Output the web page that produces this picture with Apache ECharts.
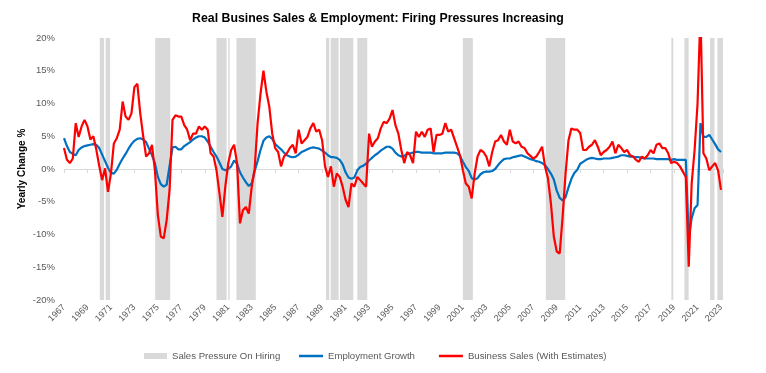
<!DOCTYPE html>
<html><head><meta charset="utf-8">
<script src="https://cdn.jsdelivr.net/npm/echarts@6/dist/echarts.min.js"></script>
<style>html,body{margin:0;padding:0;background:#fff}#c{width:766px;height:373px}</style>
</head><body><div id="c"></div>
<script>
// Quarterly observations, first = 1967 Q1, last = 2023 Q1
const startYear = 1967;
const employmentGrowth = [
 4.7,3.5,2.6,2.3, 2.1,2.9,3.3,3.5, 3.6,3.7,3.8,3.7, 3.2,2.2,1.2,0.2,
 -0.6,-0.7,-0.1,0.8, 1.6,2.3,3.1,3.8, 4.3,4.6,4.7,4.5, 4.1,3.1,2.1,0.9,
 -1.2,-2.3,-2.7,-2.4, 0.5,3.3,3.4,3.0, 3.0,3.5,3.8,4.1, 4.5,4.8,5.0,5.0,
 4.8,4.2,3.4,2.6, 1.9,1.0,0.0,-0.2, 0.0,0.4,1.3,0.8, -0.5,-1.3,-2.0,-2.6,
 -2.2,-0.3,1.2,2.9, 4.3,4.8,5.0,4.6, 3.8,3.4,3.0,2.5, 2.1,1.9,1.8,1.9,
 2.2,2.6,2.8,3.0, 3.2,3.3,3.2,3.1, 2.8,2.5,2.1,1.8, 1.8,1.7,1.4,0.7,
 -0.5,-1.3,-1.5,-1.3, -0.2,0.3,0.5,0.8, 1.3,1.7,2.1,2.4, 2.8,3.1,3.4,3.4,
 3.1,2.5,2.1,1.9, 2.0,2.3,2.4,2.5, 2.6,2.6,2.5,2.5, 2.5,2.5,2.4,2.4,
 2.4,2.4,2.5,2.5, 2.5,2.5,2.4,2.0, 1.1,0.3,-0.3,-1.4, -1.6,-1.4,-0.8,-0.5,
 -0.4,-0.4,-0.3,0.0, 0.6,1.1,1.5,1.6, 1.6,1.8,1.9,2.0, 2.1,1.9,1.7,1.5,
 1.4,1.2,1.1,0.9, 0.6,0.0,-0.7,-1.6, -3.3,-4.4,-4.8,-4.3, -2.8,-1.5,-0.6,-0.1,
 0.8,1.1,1.4,1.6, 1.7,1.6,1.5,1.5, 1.6,1.6,1.6,1.7, 1.8,1.9,2.1,2.1,
 2.0,1.9,1.9,1.8, 1.8,1.7,1.6,1.6, 1.6,1.6,1.5,1.5, 1.5,1.5,1.5,1.4,
 1.5,1.4,1.4,1.4, 1.4,-10.5,-7.5,-6.0, -5.5,7.0,4.9,4.9, 5.2,4.5,3.8,3.0,
 2.6
];
const businessSales = [
 3.2,1.4,0.9,1.6, 7.0,4.9,6.5,7.5, 6.5,4.5,5.0,3.0, 0.5,-1.7,0.1,-3.5,
 -0.7,3.9,4.7,6.0, 10.3,8.0,7.5,8.5, 12.5,13.0,8.5,5.0, 1.9,2.4,3.7,-0.2,
 -7.0,-10.3,-10.6,-7.8, -3.2,7.5,8.2,8.0, 8.0,6.7,6.0,4.4, 5.4,5.4,6.5,6.0,
 6.5,6.0,2.4,1.9, -0.2,-3.7,-7.3,-2.7, 0.9,2.9,3.7,0.9, -8.3,-6.3,-5.8,-6.8,
 -2.7,0.0,7.0,11.5, 15.0,11.8,9.5,5.4, 3.2,2.6,0.4,1.9, 2.4,3.2,3.7,2.4,
 6.0,3.9,4.4,4.9, 6.2,7.0,5.7,6.0, 4.4,0.4,-1.2,0.4, -2.7,-0.7,-1.2,-2.7,
 -4.7,-5.8,-2.2,-2.7, -1.2,-1.7,-2.2,-2.7, 5.4,3.4,4.2,4.7, 6.2,7.2,7.0,7.7,
 9.0,6.7,5.4,2.9, 0.9,2.6,2.1,0.9, 5.7,4.9,5.7,4.9, 6.0,6.2,2.6,5.2,
 5.2,5.4,7.0,5.7, 6.0,4.7,3.4,2.1, -0.2,-2.2,-2.7,-4.5, -0.7,1.9,2.9,2.6,
 1.9,0.4,2.6,4.2, 4.4,5.2,4.2,3.7, 6.0,4.2,3.9,4.2, 3.4,3.2,2.4,2.0,
 1.6,1.9,2.6,3.4, 0.4,-1.4,-5.2,-10.3, -12.6,-12.9,-7.3,-0.7, 4.4,6.2,6.0,6.0,
 5.5,2.9,2.9,3.4, 3.7,4.4,3.4,2.1, 2.6,2.9,3.4,4.2, 2.4,3.7,3.2,2.6,
 2.9,2.1,1.9,1.4, 1.1,1.9,1.6,2.1, 2.9,2.4,3.7,3.9, 3.2,3.2,2.4,0.9,
 1.1,0.9,0.4,-0.4, -1.2,-14.9,-2.2,2.9, 10.0,24.0,2.4,1.6, -0.2,0.4,0.9,-0.2,
 -3.2
];
// "Sales pressure on hiring" periods (decimal years)
const pressureStart = [1970.05,1970.55,1974.77,1980.0,1981.0,1981.7,1989.33,1989.73,1990.52,1992.0,2001.0,2008.07,2018.77,2019.88,2022.07,2022.69];
const pressureEnd   = [1970.42,1970.93,1976.05,1980.86,1981.12,1983.35,1989.61,1990.41,1991.66,1992.85,2001.85,2009.72,2018.93,2020.24,2022.44,2023.17];
const yearSpan = 56.17; // Jan 1967 .. Mar 2023

const FONT = "'Liberation Sans', Arial, sans-serif";
const chart = echarts.init(document.getElementById('c'), null, {renderer: 'canvas'});
const toXY = arr => arr.map((v, i) => [i / 4, v]);

chart.setOption({
  animation: false,
  backgroundColor: '#fff',
  title: {
    text: 'Real Busines Sales & Employment: Firing Pressures Increasing',
    left: 373, top: 8, textAlign: 'center',
    textStyle: {fontFamily: FONT, fontWeight: 'bold', fontSize: 12.3, color: '#000'}
  },
  grid: {left: 64, right: 43, top: 38, bottom: 73},
  legend: [
    {data: [{name: 'Sales Pressure On Hiring', icon: 'rect'}], left: 139, top: 346,
     itemWidth: 23, itemHeight: 6, itemGap: 24,
     textStyle: {fontFamily: FONT, fontSize: 9.6, color: '#595959'}},
    {data: [{name: 'Employment Growth', icon: 'rect'}, {name: 'Business Sales (With Estimates)', icon: 'rect'}],
     left: 294, top: 346, itemWidth: 24, itemHeight: 2.5, itemGap: 24,
     textStyle: {fontFamily: FONT, fontSize: 9.6, color: '#595959'}}
  ],
  xAxis: [
    {type: 'value', min: 0, max: yearSpan, interval: 2, position: 'bottom',
     axisLine: {onZero: true, lineStyle: {color: '#d9d9d9', width: 1}},
     axisTick: {show: true, length: 4, lineStyle: {color: '#d9d9d9'}},
     axisLabel: {show: false}, splitLine: {show: false}},
    {type: 'value', min: 0, max: yearSpan, interval: 2, position: 'bottom',
     axisLine: {show: false, onZero: false}, axisTick: {show: false}, splitLine: {show: false},
     axisLabel: {rotate: 45, margin: 6, fontFamily: FONT, fontSize: 9, color: '#595959',
       formatter: v => (Math.abs(v - Math.round(v)) < 1e-6 ? String(startYear + Math.round(v)) : '')}}
  ],
  yAxis: {
    type: 'value', min: -20, max: 20, interval: 5,
    name: 'Yearly Change %', nameLocation: 'middle', nameGap: 37, nameMoveOverlap: false,
    nameTextStyle: {fontFamily: FONT, fontWeight: 'bold', fontSize: 10, color: '#000'},
    axisLine: {show: false}, axisTick: {show: false}, splitLine: {show: false},
    axisLabel: {formatter: '{value}%', margin: 9, fontFamily: FONT, fontSize: 9.5, color: '#595959'}
  },
  series: [
    {name: 'Sales Pressure On Hiring', type: 'custom', xAxisIndex: 0, silent: true, z: 1,
     itemStyle: {color: '#d9d9d9'},
     encode: {x: [0, 1]},
     data: pressureStart.map((s, i) => [s - startYear, pressureEnd[i] - startYear]),
     renderItem: (params, api) => {
       const a = api.coord([api.value(0), 20]);
       const b = api.coord([api.value(1), -20]);
       return {type: 'rect', shape: {x: a[0], y: a[1], width: Math.max(b[0] - a[0], 1), height: b[1] - a[1]},
               style: {fill: '#d9d9d9'}};
     }},
    {name: 'Employment Growth', type: 'line', xAxisIndex: 0, showSymbol: false, z: 3,
     lineStyle: {color: '#0070c0', width: 2.2}, itemStyle: {color: '#0070c0'},
     data: toXY(employmentGrowth)},
    {name: 'Business Sales (With Estimates)', type: 'line', xAxisIndex: 0, showSymbol: false, z: 4,
     lineStyle: {color: '#ff0000', width: 2.2}, itemStyle: {color: '#ff0000'},
     data: toXY(businessSales)}
  ]
});
</script></body></html>
